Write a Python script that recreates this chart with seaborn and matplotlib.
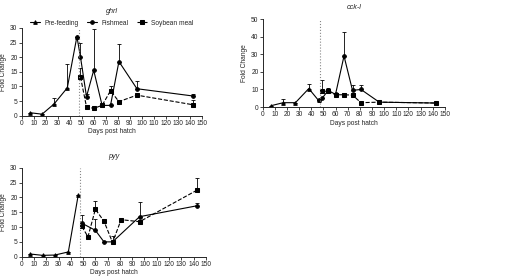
import matplotlib
matplotlib.use("Agg")
import matplotlib.pyplot as plt
import seaborn as sns
import numpy as np
import pandas as pd

sns.set_style("ticks")
plt.rcParams['font.family'] = ['Liberation Sans', 'DejaVu Sans']

# ---- data ----
pre_days = [7, 17, 27, 38, 46]

ghrl_pre = [1.0, 0.5, 4.0, 9.5, 27.0]
ghrl_pre_err = [0, 0, 2.0, 8.0, 0]
ghrl_fish_days = [46, 49, 54, 60, 67, 74, 81, 96, 143]
ghrl_fish = [27.0, 20.0, 6.5, 15.5, 3.5, 3.5, 18.5, 9.2, 6.7]
ghrl_fish_err = [0, 5.0, 1.0, 14.0, 0.5, 0, 6.0, 2.8, 0.8]
ghrl_soy_days = [49, 54, 60, 67, 74, 81, 96, 143]
ghrl_soy = [13.2, 3.0, 2.5, 3.5, 8.5, 4.8, 7.0, 3.7]
ghrl_soy_err = [3.0, 0.5, 0, 0.5, 1.5, 0, 0, 1.5]

cck_pre = [0.8, 2.5, 2.5, 10.5, 3.8]
cck_pre_err = [0, 1.9, 0, 2.5, 0]
cck_fish_days = [46, 49, 54, 60, 67, 74, 81, 96, 143]
cck_fish = [3.8, 5.0, 9.5, 7.2, 29.0, 9.5, 10.0, 2.8, 2.3]
cck_fish_err = [0, 0, 1.3, 0, 13.4, 3.0, 2.5, 0, 0]
cck_soy_days = [49, 54, 60, 67, 74, 81, 96, 143]
cck_soy = [9.0, 9.0, 7.0, 7.0, 6.8, 2.5, 2.8, 2.3]
cck_soy_err = [6.5, 1.0, 0, 1.2, 1.2, 0, 0, 0.7]

pyy_pre = [0.9, 0.45, 0.55, 1.6, 20.7]
pyy_pre_err = [0, 0, 0, 0, 0]
pyy_fish_days = [49, 60, 67, 74, 96, 143]
pyy_fish = [11.3, 8.9, 5.0, 5.0, 13.5, 17.2]
pyy_fish_err = [2.7, 3.8, 0, 2.0, 5.0, 0.8]
pyy_soy_days = [49, 54, 60, 67, 74, 81, 96, 143]
pyy_soy = [10.2, 6.7, 16.0, 12.0, 4.8, 12.5, 11.8, 22.5]
pyy_soy_err = [0, 0, 2.8, 0, 0, 0, 0, 4.0]

series_names = ["Pre-feeding", "Fishmeal", "Soybean meal"]
FS = 4.8


def draw(ax, title, ymax, ystep, pre, pre_err, fd, f, fe, sd, s, se, legend=False):
    styles = {
        "Pre-feeding": dict(marker="^", ls="-"),
        "Fishmeal": dict(marker="o", ls="-"),
        "Soybean meal": dict(marker="s", ls="--"),
    }
    data = [("Pre-feeding", pre_days, pre, pre_err),
            ("Fishmeal", fd, f, fe),
            ("Soybean meal", sd, s, se)]
    for name, x, y, e in data:
        df = pd.DataFrame({"day": x, "val": y})
        st = styles[name]
        sns.lineplot(data=df, x="day", y="val", ax=ax, color="black",
                     linestyle=st["ls"], marker=st["marker"], markersize=2.6,
                     markeredgecolor="black", linewidth=0.8, label=name if legend else None,
                     legend=False)
        ax.errorbar(x, y, yerr=[np.zeros(len(e)), e], fmt="none", ecolor="black",
                    elinewidth=0.6, capsize=1.5, capthick=0.6)
    ax.axvline(47.5, color="#888888", linestyle=":", linewidth=0.8)
    ax.set_xlim(0, 150)
    ax.set_ylim(0, ymax)
    ax.set_xticks(np.arange(0, 151, 10))
    ax.set_yticks(np.arange(0, ymax + 0.1, ystep))
    ax.tick_params(labelsize=FS, length=2, width=0.6, pad=1)
    ax.set_xlabel("Days post hatch", fontsize=FS, labelpad=1)
    ax.set_ylabel("Fold Change", fontsize=FS, labelpad=2)
    ax.set_title(title, fontsize=FS + 0.4, style="italic", pad=11 if legend else 7)
    for sp in ["left", "bottom"]:
        ax.spines[sp].set_linewidth(0.7)
    sns.despine(ax=ax)
    if legend:
        ax.legend(loc="lower center", bbox_to_anchor=(0.5, 0.985), ncol=3,
                  frameon=False, fontsize=FS, handlelength=1.5, columnspacing=1.3,
                  borderaxespad=0, handletextpad=0.6, markerscale=1.0)


fig = plt.figure(figsize=(5.16, 2.76), dpi=100)
ax1 = fig.add_axes([0.042, 0.581, 0.349, 0.318])
ax2 = fig.add_axes([0.509, 0.612, 0.353, 0.319])
ax3 = fig.add_axes([0.042, 0.070, 0.357, 0.322])

draw(ax1, "ghrl", 30, 5, ghrl_pre, ghrl_pre_err, ghrl_fish_days, ghrl_fish, ghrl_fish_err,
     ghrl_soy_days, ghrl_soy, ghrl_soy_err, legend=True)
draw(ax2, "cck-l", 50, 10, cck_pre, cck_pre_err, cck_fish_days, cck_fish, cck_fish_err,
     cck_soy_days, cck_soy, cck_soy_err)
draw(ax3, "pyy", 30, 5, pyy_pre, pyy_pre_err, pyy_fish_days, pyy_fish, pyy_fish_err,
     pyy_soy_days, pyy_soy, pyy_soy_err)

fig.savefig("out.png", dpi=100)
